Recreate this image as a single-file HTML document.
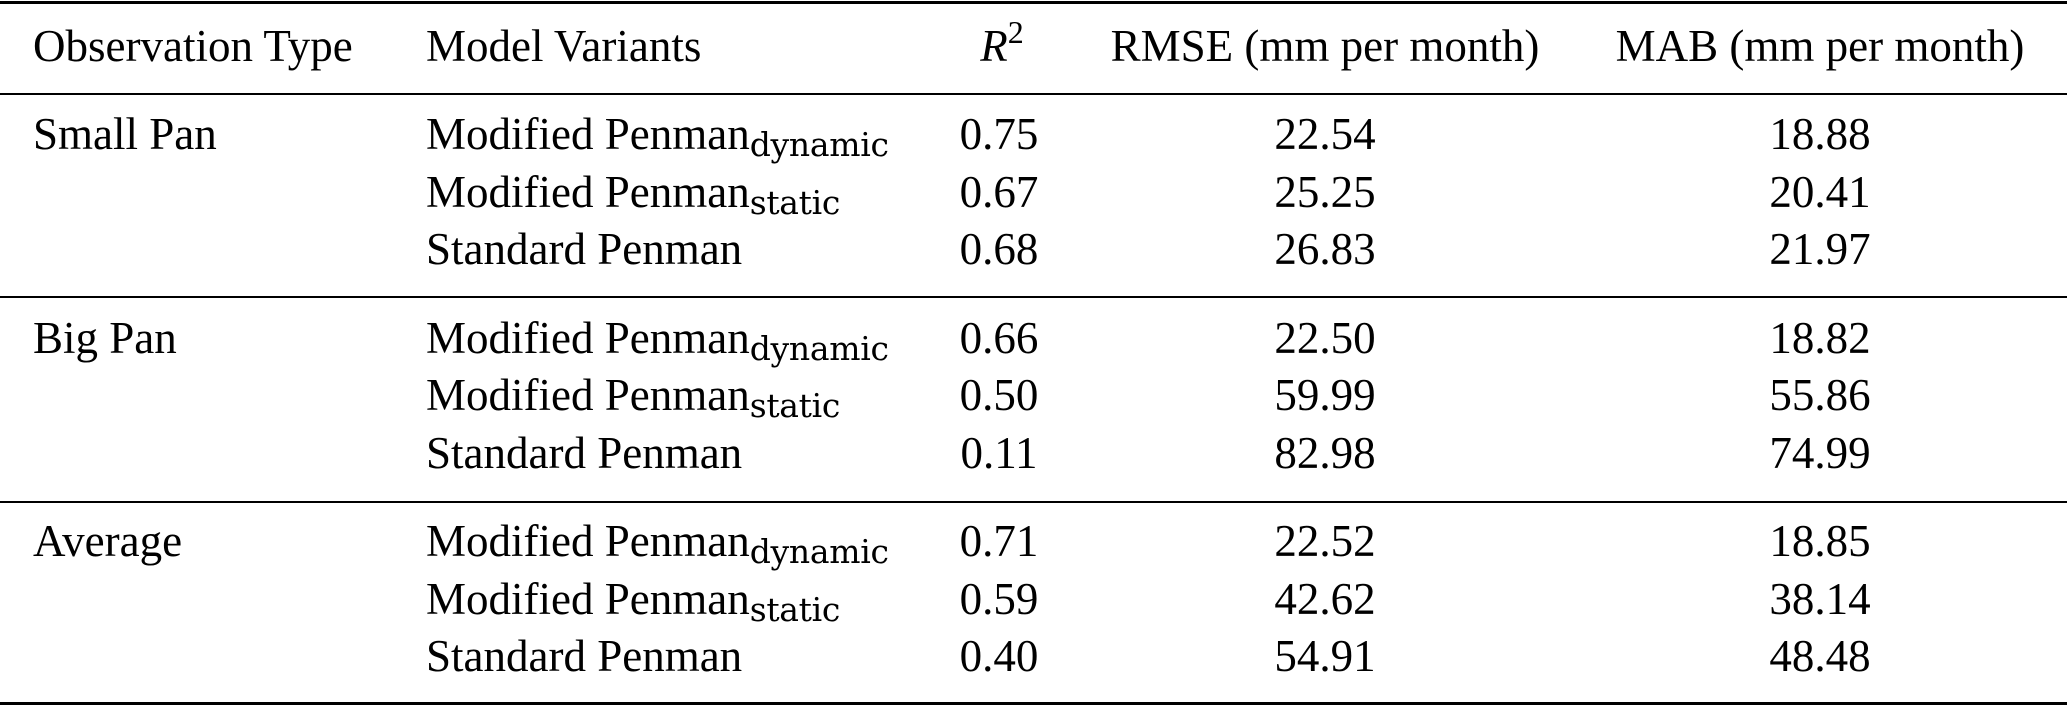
<!DOCTYPE html>
<html><head><meta charset="utf-8"><style>
body{margin:0;width:2067px;height:706px;background:#fff;position:relative;overflow:hidden;font-family:"Liberation Serif",serif;font-size:45px;color:#000}
.t{position:absolute;line-height:1;white-space:nowrap}
.c{text-align:center}
.l{position:absolute;left:0;width:2067px;background:#000}
sub{font-family:"DejaVu Serif",serif;font-size:33px;vertical-align:-7px;line-height:0;letter-spacing:-0.3px}
sup{font-size:32px;vertical-align:18px;line-height:0}
</style></head><body>
<div class="l" style="top:1px;height:3px"></div>
<div class="l" style="top:93px;height:2px"></div>
<div class="l" style="top:296px;height:2px"></div>
<div class="l" style="top:501px;height:2px"></div>
<div class="l" style="top:702px;height:3px"></div>

<div class="t" style="left:33px;top:24px">Observation Type</div>
<div class="t" style="left:426px;top:24px">Model Variants</div>
<div class="t c" style="left:952px;width:100px;top:24px"><i>R</i><sup>2</sup></div>
<div class="t c" style="left:1080px;width:490px;top:24px">RMSE (mm per month)</div>
<div class="t c" style="left:1600px;width:440px;top:24px">MAB (mm per month)</div>

<div class="t" style="left:33px;top:112px">Small Pan</div>
<div class="t" style="left:33px;top:316px">Big Pan</div>
<div class="t" style="left:33px;top:519px">Average</div>

<div class="t" style="left:426px;top:112px">Modified Penman<sub>dynamic</sub></div>
<div class="t" style="left:426px;top:170px">Modified Penman<sub>static</sub></div>
<div class="t" style="left:426px;top:227px">Standard Penman</div>
<div class="t" style="left:426px;top:316px">Modified Penman<sub>dynamic</sub></div>
<div class="t" style="left:426px;top:373px">Modified Penman<sub>static</sub></div>
<div class="t" style="left:426px;top:431px">Standard Penman</div>
<div class="t" style="left:426px;top:519px">Modified Penman<sub>dynamic</sub></div>
<div class="t" style="left:426px;top:577px">Modified Penman<sub>static</sub></div>
<div class="t" style="left:426px;top:634px">Standard Penman</div>

<div class="t c" style="left:949px;width:100px;top:112px">0.75</div>
<div class="t c" style="left:949px;width:100px;top:170px">0.67</div>
<div class="t c" style="left:949px;width:100px;top:227px">0.68</div>
<div class="t c" style="left:949px;width:100px;top:316px">0.66</div>
<div class="t c" style="left:949px;width:100px;top:373px">0.50</div>
<div class="t c" style="left:949px;width:100px;top:431px">0.11</div>
<div class="t c" style="left:949px;width:100px;top:519px">0.71</div>
<div class="t c" style="left:949px;width:100px;top:577px">0.59</div>
<div class="t c" style="left:949px;width:100px;top:634px">0.40</div>

<div class="t c" style="left:1225px;width:200px;top:112px">22.54</div>
<div class="t c" style="left:1225px;width:200px;top:170px">25.25</div>
<div class="t c" style="left:1225px;width:200px;top:227px">26.83</div>
<div class="t c" style="left:1225px;width:200px;top:316px">22.50</div>
<div class="t c" style="left:1225px;width:200px;top:373px">59.99</div>
<div class="t c" style="left:1225px;width:200px;top:431px">82.98</div>
<div class="t c" style="left:1225px;width:200px;top:519px">22.52</div>
<div class="t c" style="left:1225px;width:200px;top:577px">42.62</div>
<div class="t c" style="left:1225px;width:200px;top:634px">54.91</div>

<div class="t c" style="left:1720px;width:200px;top:112px">18.88</div>
<div class="t c" style="left:1720px;width:200px;top:170px">20.41</div>
<div class="t c" style="left:1720px;width:200px;top:227px">21.97</div>
<div class="t c" style="left:1720px;width:200px;top:316px">18.82</div>
<div class="t c" style="left:1720px;width:200px;top:373px">55.86</div>
<div class="t c" style="left:1720px;width:200px;top:431px">74.99</div>
<div class="t c" style="left:1720px;width:200px;top:519px">18.85</div>
<div class="t c" style="left:1720px;width:200px;top:577px">38.14</div>
<div class="t c" style="left:1720px;width:200px;top:634px">48.48</div>
</body></html>
